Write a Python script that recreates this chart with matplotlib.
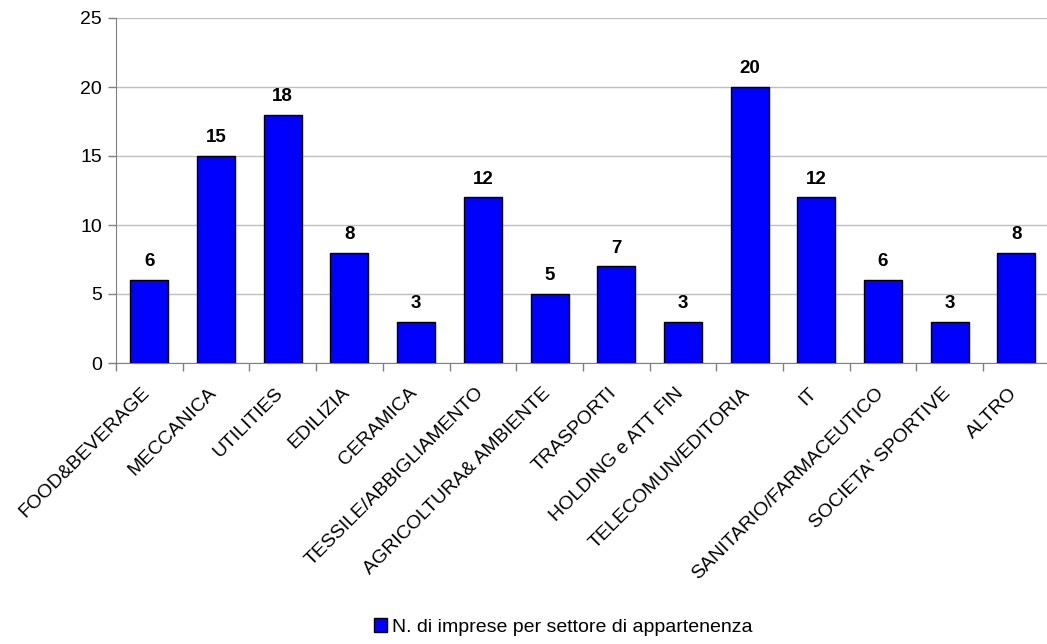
import matplotlib.pyplot as plt
from matplotlib.patches import Patch
from matplotlib.transforms import ScaledTranslation

plt.rcParams['font.family'] = ['Liberation Sans', 'DejaVu Sans']

settori = ['FOOD&BEVERAGE', 'MECCANICA', 'UTILITIES', 'EDILIZIA', 'CERAMICA',
           'TESSILE/ABBIGLIAMENTO', 'AGRICOLTURA& AMBIENTE', 'TRASPORTI',
           'HOLDING e ATT FIN', 'TELECOMUN/EDITORIA', 'IT',
           'SANITARIO/FARMACEUTICO', "SOCIETA' SPORTIVE", 'ALTRO']
imprese = [6, 15, 18, 8, 3, 12, 5, 7, 3, 20, 12, 6, 3, 8]
legenda = 'N. di imprese per settore di appartenenza'

fig = plt.figure(figsize=(10.47, 6.44), dpi=100)
ax = fig.add_axes([116 / 1047, 1 - 363 / 644, 931 / 1047, (363 - 18) / 644])

x = list(range(len(settori)))
ax.bar(x, imprese, width=0.57, color='#0000FF', edgecolor='black', linewidth=1, zorder=3)

for xi, v in zip(x, imprese):
    ax.annotate(str(v), (xi, v), xytext=(0, 7), textcoords='offset points',
                ha='center', va='bottom', fontsize=13.5, fontweight='bold')

ax.set_ylim(0, 25)
ax.set_yticks(range(0, 26, 5))
ax.set_xlim(-0.5, -0.5 + 931 / 66.7)
ax.yaxis.grid(True, color='#c0c0c0', linewidth=1, zorder=0)

# category labels on the centers, tick marks on the boundaries
ax.set_xticks(x)
ax.set_xticklabels(settori, rotation=45, ha='right', va='top', rotation_mode='anchor', fontsize=14)
ax.tick_params(axis='x', which='major', length=0, pad=14)
shift = ScaledTranslation(-8 / 100, -2 / 100, fig.dpi_scale_trans)
for lab in ax.get_xticklabels():
    lab.set_transform(lab.get_transform() + shift)
ax.set_xticks([i - 0.5 for i in range(len(settori))], minor=True)
ax.tick_params(axis='x', which='minor', length=6, width=1, color='#808080', direction='out')
ax.tick_params(axis='y', length=6, width=1, color='#808080', labelsize=14, pad=4)

for s in ['top', 'right']:
    ax.spines[s].set_visible(False)
ax.spines['left'].set_color('#808080')
ax.spines['bottom'].set_color('#808080')

handle = Patch(facecolor='#0000FF', edgecolor='black', label=legenda)
fig.legend(handles=[handle], loc='center', bbox_to_anchor=(0.538, 1 - 627 / 644),
           frameon=False, fontsize=14, handlelength=0.7, handleheight=0.7, handletextpad=0.25)

fig.savefig('out.png', dpi=100)
